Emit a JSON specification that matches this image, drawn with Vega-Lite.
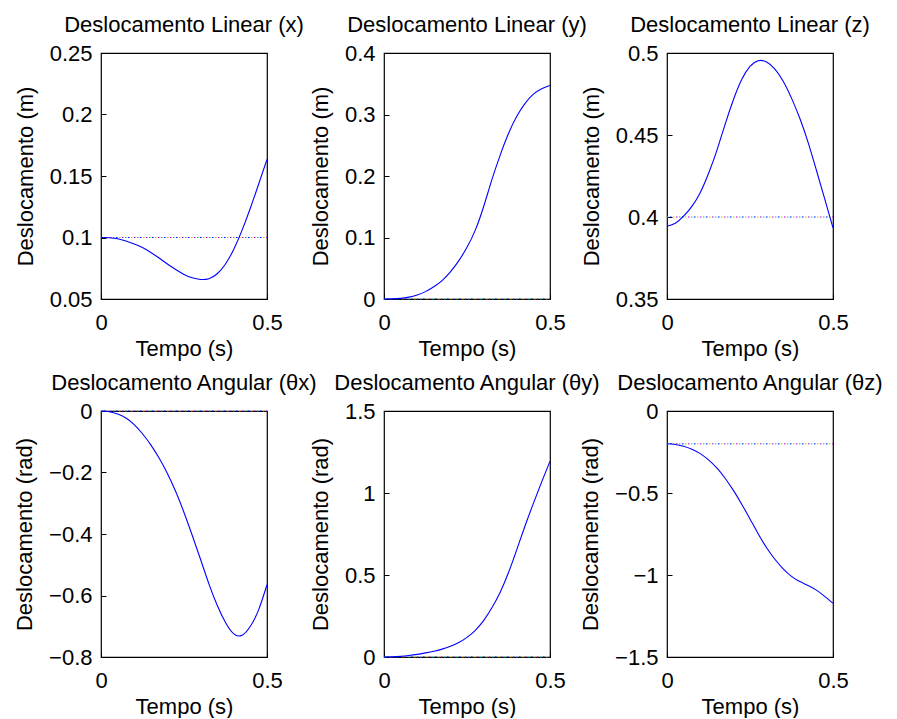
{
  "$schema": "https://vega.github.io/schema/vega-lite/v6.json",
  "background": "white",
  "padding": {"left": 12, "top": 13, "right": 5, "bottom": 0},
  "columns": 3,
  "bounds": "flush",
  "spacing": {"row": 112, "column": 117},
  "datasets": {
    "x": [
      {"t":0,"v":0.1,"s":"ref"},{"t":0.5,"v":0.1,"s":"ref"},
      {"t":0,"v":0.1,"s":"curve"},{"t":0.025,"v":0.0998,"s":"curve"},{"t":0.05,"v":0.099,"s":"curve"},{"t":0.075,"v":0.0972,"s":"curve"},{"t":0.1,"v":0.0948,"s":"curve"},{"t":0.125,"v":0.0918,"s":"curve"},{"t":0.15,"v":0.0878,"s":"curve"},{"t":0.175,"v":0.0833,"s":"curve"},{"t":0.2,"v":0.0785,"s":"curve"},{"t":0.225,"v":0.074,"s":"curve"},{"t":0.25,"v":0.07,"s":"curve"},{"t":0.275,"v":0.0672,"s":"curve"},{"t":0.3,"v":0.0659,"s":"curve"},{"t":0.325,"v":0.0665,"s":"curve"},{"t":0.35,"v":0.0705,"s":"curve"},{"t":0.375,"v":0.0785,"s":"curve"},{"t":0.4,"v":0.0905,"s":"curve"},{"t":0.425,"v":0.106,"s":"curve"},{"t":0.45,"v":0.124,"s":"curve"},{"t":0.475,"v":0.1435,"s":"curve"},{"t":0.5,"v":0.1635,"s":"curve"}
    ],
    "y": [
      {"t":0,"v":0,"s":"ref"},{"t":0.5,"v":0,"s":"ref"},
      {"t":0,"v":0,"s":"curve"},{"t":0.025,"v":0.0002,"s":"curve"},{"t":0.05,"v":0.001,"s":"curve"},{"t":0.075,"v":0.003,"s":"curve"},{"t":0.1,"v":0.0065,"s":"curve"},{"t":0.125,"v":0.012,"s":"curve"},{"t":0.15,"v":0.02,"s":"curve"},{"t":0.175,"v":0.03,"s":"curve"},{"t":0.2,"v":0.044,"s":"curve"},{"t":0.225,"v":0.062,"s":"curve"},{"t":0.25,"v":0.084,"s":"curve"},{"t":0.275,"v":0.112,"s":"curve"},{"t":0.3,"v":0.15,"s":"curve"},{"t":0.325,"v":0.194,"s":"curve"},{"t":0.35,"v":0.234,"s":"curve"},{"t":0.375,"v":0.269,"s":"curve"},{"t":0.4,"v":0.297,"s":"curve"},{"t":0.425,"v":0.318,"s":"curve"},{"t":0.45,"v":0.333,"s":"curve"},{"t":0.475,"v":0.342,"s":"curve"},{"t":0.5,"v":0.347,"s":"curve"}
    ],
    "z": [
      {"t":0,"v":0.4,"s":"ref"},{"t":0.5,"v":0.4,"s":"ref"},
      {"t":0,"v":0.3944,"s":"curve"},{"t":0.025,"v":0.3962,"s":"curve"},{"t":0.05,"v":0.4005,"s":"curve"},{"t":0.075,"v":0.4065,"s":"curve"},{"t":0.1,"v":0.4148,"s":"curve"},{"t":0.125,"v":0.4265,"s":"curve"},{"t":0.15,"v":0.4405,"s":"curve"},{"t":0.175,"v":0.4565,"s":"curve"},{"t":0.2,"v":0.4715,"s":"curve"},{"t":0.225,"v":0.4838,"s":"curve"},{"t":0.25,"v":0.4918,"s":"curve"},{"t":0.275,"v":0.4953,"s":"curve"},{"t":0.3,"v":0.4945,"s":"curve"},{"t":0.325,"v":0.4902,"s":"curve"},{"t":0.35,"v":0.4828,"s":"curve"},{"t":0.375,"v":0.4725,"s":"curve"},{"t":0.4,"v":0.4602,"s":"curve"},{"t":0.425,"v":0.4455,"s":"curve"},{"t":0.45,"v":0.4285,"s":"curve"},{"t":0.475,"v":0.411,"s":"curve"},{"t":0.5,"v":0.3934,"s":"curve"}
    ],
    "tx": [
      {"t":0,"v":0,"s":"ref"},{"t":0.5,"v":0,"s":"ref"},
      {"t":0,"v":0,"s":"curve"},{"t":0.025,"v":-0.0025,"s":"curve"},{"t":0.05,"v":-0.01,"s":"curve"},{"t":0.075,"v":-0.023,"s":"curve"},{"t":0.1,"v":-0.044,"s":"curve"},{"t":0.125,"v":-0.074,"s":"curve"},{"t":0.15,"v":-0.11,"s":"curve"},{"t":0.175,"v":-0.153,"s":"curve"},{"t":0.2,"v":-0.203,"s":"curve"},{"t":0.225,"v":-0.262,"s":"curve"},{"t":0.25,"v":-0.33,"s":"curve"},{"t":0.275,"v":-0.405,"s":"curve"},{"t":0.3,"v":-0.483,"s":"curve"},{"t":0.325,"v":-0.562,"s":"curve"},{"t":0.35,"v":-0.632,"s":"curve"},{"t":0.375,"v":-0.688,"s":"curve"},{"t":0.4,"v":-0.725,"s":"curve"},{"t":0.425,"v":-0.729,"s":"curve"},{"t":0.45,"v":-0.7,"s":"curve"},{"t":0.475,"v":-0.646,"s":"curve"},{"t":0.5,"v":-0.565,"s":"curve"}
    ],
    "ty": [
      {"t":0,"v":0,"s":"ref"},{"t":0.5,"v":0,"s":"ref"},
      {"t":0,"v":0,"s":"curve"},{"t":0.025,"v":0.001,"s":"curve"},{"t":0.05,"v":0.004,"s":"curve"},{"t":0.075,"v":0.009,"s":"curve"},{"t":0.1,"v":0.016,"s":"curve"},{"t":0.125,"v":0.025,"s":"curve"},{"t":0.15,"v":0.035,"s":"curve"},{"t":0.175,"v":0.048,"s":"curve"},{"t":0.2,"v":0.065,"s":"curve"},{"t":0.225,"v":0.088,"s":"curve"},{"t":0.25,"v":0.12,"s":"curve"},{"t":0.275,"v":0.163,"s":"curve"},{"t":0.3,"v":0.222,"s":"curve"},{"t":0.325,"v":0.3,"s":"curve"},{"t":0.35,"v":0.395,"s":"curve"},{"t":0.375,"v":0.515,"s":"curve"},{"t":0.4,"v":0.655,"s":"curve"},{"t":0.425,"v":0.8,"s":"curve"},{"t":0.45,"v":0.937,"s":"curve"},{"t":0.475,"v":1.068,"s":"curve"},{"t":0.5,"v":1.194,"s":"curve"}
    ],
    "tz": [
      {"t":0,"v":-0.2,"s":"ref"},{"t":0.5,"v":-0.2,"s":"ref"},
      {"t":0,"v":-0.2,"s":"curve"},{"t":0.025,"v":-0.204,"s":"curve"},{"t":0.05,"v":-0.215,"s":"curve"},{"t":0.075,"v":-0.233,"s":"curve"},{"t":0.1,"v":-0.26,"s":"curve"},{"t":0.125,"v":-0.298,"s":"curve"},{"t":0.15,"v":-0.347,"s":"curve"},{"t":0.175,"v":-0.41,"s":"curve"},{"t":0.2,"v":-0.484,"s":"curve"},{"t":0.225,"v":-0.568,"s":"curve"},{"t":0.25,"v":-0.658,"s":"curve"},{"t":0.275,"v":-0.75,"s":"curve"},{"t":0.3,"v":-0.834,"s":"curve"},{"t":0.325,"v":-0.904,"s":"curve"},{"t":0.35,"v":-0.962,"s":"curve"},{"t":0.375,"v":-1.008,"s":"curve"},{"t":0.4,"v":-1.04,"s":"curve"},{"t":0.425,"v":-1.064,"s":"curve"},{"t":0.45,"v":-1.092,"s":"curve"},{"t":0.475,"v":-1.13,"s":"curve"},{"t":0.5,"v":-1.172,"s":"curve"}
    ]
  },
  "concat": [
    {
      "title": "Deslocamento Linear (x)",
      "width": 166, "height": 246,
      "data": {"name": "x"},
      "encoding": {
        "x": {"field": "t", "type": "quantitative", "scale": {"domain": [0, 0.5], "nice": false, "zero": false}, "axis": {"values": [0, 0.5], "title": "Tempo (s)", "format": "~g"}},
        "y": {"field": "v", "type": "quantitative", "scale": {"domain": [0.05, 0.25], "nice": false, "zero": false}, "axis": {"values": [0.05, 0.1, 0.15, 0.2, 0.25], "title": "Deslocamento (m)", "format": "~g"}}
      },
      "layer": [
        {"transform": [{"filter": "datum.s === 'ref'"}], "mark": {"type": "line", "color": "#00BFBF", "strokeWidth": 1, "strokeDash": [1.5, 10.5], "strokeDashOffset": 0}},
        {"transform": [{"filter": "datum.s === 'ref'"}], "mark": {"type": "line", "color": "#BF00BF", "strokeWidth": 1, "strokeDash": [1.5, 10.5], "strokeDashOffset": 3}},
        {"transform": [{"filter": "datum.s === 'ref'"}], "mark": {"type": "line", "color": "#BFBF00", "strokeWidth": 1, "strokeDash": [1.5, 10.5], "strokeDashOffset": 6}},
        {"transform": [{"filter": "datum.s === 'ref'"}], "mark": {"type": "line", "color": "#0000FF", "strokeWidth": 1, "strokeDash": [1.5, 10.5], "strokeDashOffset": 9}},
        {"transform": [{"filter": "datum.s === 'curve'"}], "mark": {"type": "line", "color": "#0000FF", "strokeWidth": 1.1, "interpolate": "natural"}}
      ]
    },
    {
      "title": "Deslocamento Linear (y)",
      "width": 166, "height": 246,
      "data": {"name": "y"},
      "encoding": {
        "x": {"field": "t", "type": "quantitative", "scale": {"domain": [0, 0.5], "nice": false, "zero": false}, "axis": {"values": [0, 0.5], "title": "Tempo (s)", "format": "~g"}},
        "y": {"field": "v", "type": "quantitative", "scale": {"domain": [0, 0.4], "nice": false, "zero": false}, "axis": {"values": [0, 0.1, 0.2, 0.3, 0.4], "title": "Deslocamento (m)", "format": "~g"}}
      },
      "layer": [
        {"transform": [{"filter": "datum.s === 'ref'"}], "mark": {"type": "line", "color": "#00BFBF", "strokeWidth": 1, "strokeDash": [1.5, 10.5], "strokeDashOffset": 0}},
        {"transform": [{"filter": "datum.s === 'ref'"}], "mark": {"type": "line", "color": "#BF00BF", "strokeWidth": 1, "strokeDash": [1.5, 10.5], "strokeDashOffset": 3}},
        {"transform": [{"filter": "datum.s === 'ref'"}], "mark": {"type": "line", "color": "#BFBF00", "strokeWidth": 1, "strokeDash": [1.5, 10.5], "strokeDashOffset": 6}},
        {"transform": [{"filter": "datum.s === 'ref'"}], "mark": {"type": "line", "color": "#0000FF", "strokeWidth": 1, "strokeDash": [1.5, 10.5], "strokeDashOffset": 9}},
        {"transform": [{"filter": "datum.s === 'curve'"}], "mark": {"type": "line", "color": "#0000FF", "strokeWidth": 1.1, "interpolate": "natural"}}
      ]
    },
    {
      "title": "Deslocamento Linear (z)",
      "width": 166, "height": 246,
      "data": {"name": "z"},
      "encoding": {
        "x": {"field": "t", "type": "quantitative", "scale": {"domain": [0, 0.5], "nice": false, "zero": false}, "axis": {"values": [0, 0.5], "title": "Tempo (s)", "format": "~g"}},
        "y": {"field": "v", "type": "quantitative", "scale": {"domain": [0.35, 0.5], "nice": false, "zero": false}, "axis": {"values": [0.35, 0.4, 0.45, 0.5], "title": "Deslocamento (m)", "format": "~g"}}
      },
      "layer": [
        {"transform": [{"filter": "datum.s === 'ref'"}], "mark": {"type": "line", "color": "#00BFBF", "strokeWidth": 1, "strokeDash": [1.5, 10.5], "strokeDashOffset": 0}},
        {"transform": [{"filter": "datum.s === 'ref'"}], "mark": {"type": "line", "color": "#BF00BF", "strokeWidth": 1, "strokeDash": [1.5, 10.5], "strokeDashOffset": 3}},
        {"transform": [{"filter": "datum.s === 'ref'"}], "mark": {"type": "line", "color": "#BFBF00", "strokeWidth": 1, "strokeDash": [1.5, 10.5], "strokeDashOffset": 6}},
        {"transform": [{"filter": "datum.s === 'ref'"}], "mark": {"type": "line", "color": "#0000FF", "strokeWidth": 1, "strokeDash": [1.5, 10.5], "strokeDashOffset": 9}},
        {"transform": [{"filter": "datum.s === 'curve'"}], "mark": {"type": "line", "color": "#0000FF", "strokeWidth": 1.1, "interpolate": "natural"}}
      ]
    },
    {
      "title": "Deslocamento Angular (θx)",
      "width": 166, "height": 246,
      "data": {"name": "tx"},
      "encoding": {
        "x": {"field": "t", "type": "quantitative", "scale": {"domain": [0, 0.5], "nice": false, "zero": false}, "axis": {"values": [0, 0.5], "title": "Tempo (s)", "format": "~g"}},
        "y": {"field": "v", "type": "quantitative", "scale": {"domain": [-0.8, 0], "nice": false, "zero": false}, "axis": {"values": [-0.8, -0.6, -0.4, -0.2, 0], "title": "Deslocamento (rad)", "format": "~g"}}
      },
      "layer": [
        {"transform": [{"filter": "datum.s === 'ref'"}], "mark": {"type": "line", "color": "#00BFBF", "strokeWidth": 1, "strokeDash": [1.5, 10.5], "strokeDashOffset": 0}},
        {"transform": [{"filter": "datum.s === 'ref'"}], "mark": {"type": "line", "color": "#BF00BF", "strokeWidth": 1, "strokeDash": [1.5, 10.5], "strokeDashOffset": 3}},
        {"transform": [{"filter": "datum.s === 'ref'"}], "mark": {"type": "line", "color": "#BFBF00", "strokeWidth": 1, "strokeDash": [1.5, 10.5], "strokeDashOffset": 6}},
        {"transform": [{"filter": "datum.s === 'ref'"}], "mark": {"type": "line", "color": "#0000FF", "strokeWidth": 1, "strokeDash": [1.5, 10.5], "strokeDashOffset": 9}},
        {"transform": [{"filter": "datum.s === 'curve'"}], "mark": {"type": "line", "color": "#0000FF", "strokeWidth": 1.1, "interpolate": "natural"}}
      ]
    },
    {
      "title": "Deslocamento Angular (θy)",
      "width": 166, "height": 246,
      "data": {"name": "ty"},
      "encoding": {
        "x": {"field": "t", "type": "quantitative", "scale": {"domain": [0, 0.5], "nice": false, "zero": false}, "axis": {"values": [0, 0.5], "title": "Tempo (s)", "format": "~g"}},
        "y": {"field": "v", "type": "quantitative", "scale": {"domain": [0, 1.5], "nice": false, "zero": false}, "axis": {"values": [0, 0.5, 1, 1.5], "title": "Deslocamento (rad)", "format": "~g"}}
      },
      "layer": [
        {"transform": [{"filter": "datum.s === 'ref'"}], "mark": {"type": "line", "color": "#00BFBF", "strokeWidth": 1, "strokeDash": [1.5, 10.5], "strokeDashOffset": 0}},
        {"transform": [{"filter": "datum.s === 'ref'"}], "mark": {"type": "line", "color": "#BF00BF", "strokeWidth": 1, "strokeDash": [1.5, 10.5], "strokeDashOffset": 3}},
        {"transform": [{"filter": "datum.s === 'ref'"}], "mark": {"type": "line", "color": "#BFBF00", "strokeWidth": 1, "strokeDash": [1.5, 10.5], "strokeDashOffset": 6}},
        {"transform": [{"filter": "datum.s === 'ref'"}], "mark": {"type": "line", "color": "#0000FF", "strokeWidth": 1, "strokeDash": [1.5, 10.5], "strokeDashOffset": 9}},
        {"transform": [{"filter": "datum.s === 'curve'"}], "mark": {"type": "line", "color": "#0000FF", "strokeWidth": 1.1, "interpolate": "natural"}}
      ]
    },
    {
      "title": "Deslocamento Angular (θz)",
      "width": 166, "height": 246,
      "data": {"name": "tz"},
      "encoding": {
        "x": {"field": "t", "type": "quantitative", "scale": {"domain": [0, 0.5], "nice": false, "zero": false}, "axis": {"values": [0, 0.5], "title": "Tempo (s)", "format": "~g"}},
        "y": {"field": "v", "type": "quantitative", "scale": {"domain": [-1.5, 0], "nice": false, "zero": false}, "axis": {"values": [-1.5, -1, -0.5, 0], "title": "Deslocamento (rad)", "format": "~g"}}
      },
      "layer": [
        {"transform": [{"filter": "datum.s === 'ref'"}], "mark": {"type": "line", "color": "#00BFBF", "strokeWidth": 1, "strokeDash": [1.5, 10.5], "strokeDashOffset": 0}},
        {"transform": [{"filter": "datum.s === 'ref'"}], "mark": {"type": "line", "color": "#BF00BF", "strokeWidth": 1, "strokeDash": [1.5, 10.5], "strokeDashOffset": 3}},
        {"transform": [{"filter": "datum.s === 'ref'"}], "mark": {"type": "line", "color": "#BFBF00", "strokeWidth": 1, "strokeDash": [1.5, 10.5], "strokeDashOffset": 6}},
        {"transform": [{"filter": "datum.s === 'ref'"}], "mark": {"type": "line", "color": "#0000FF", "strokeWidth": 1, "strokeDash": [1.5, 10.5], "strokeDashOffset": 9}},
        {"transform": [{"filter": "datum.s === 'curve'"}], "mark": {"type": "line", "color": "#0000FF", "strokeWidth": 1.1, "interpolate": "natural"}}
      ]
    }
  ],
  "config": {
    "font": "Liberation Sans",
    "view": {"stroke": "black", "strokeWidth": 1.2},
    "axis": {
      "grid": false,
      "domain": false,
      "tickColor": "black",
      "tickSize": -5,
      "tickWidth": 1,
      "labelFontSize": 22,
      "labelColor": "black",
      "labelFont": "Liberation Sans",
      "labelOverlap": false,
      "labelFlush": false,
      "titleFontSize": 22,
      "titleFontWeight": "normal",
      "titleColor": "black",
      "titleFont": "Liberation Sans"
    },
    "axisX": {"labelPadding": 18, "titlePadding": 5},
    "axisY": {"labelPadding": 14, "titlePadding": 12},
    "title": {
      "fontSize": 22,
      "fontWeight": "normal",
      "color": "black",
      "font": "Liberation Sans",
      "anchor": "middle",
      "baseline": "bottom",
      "offset": 5
    }
  }
}
